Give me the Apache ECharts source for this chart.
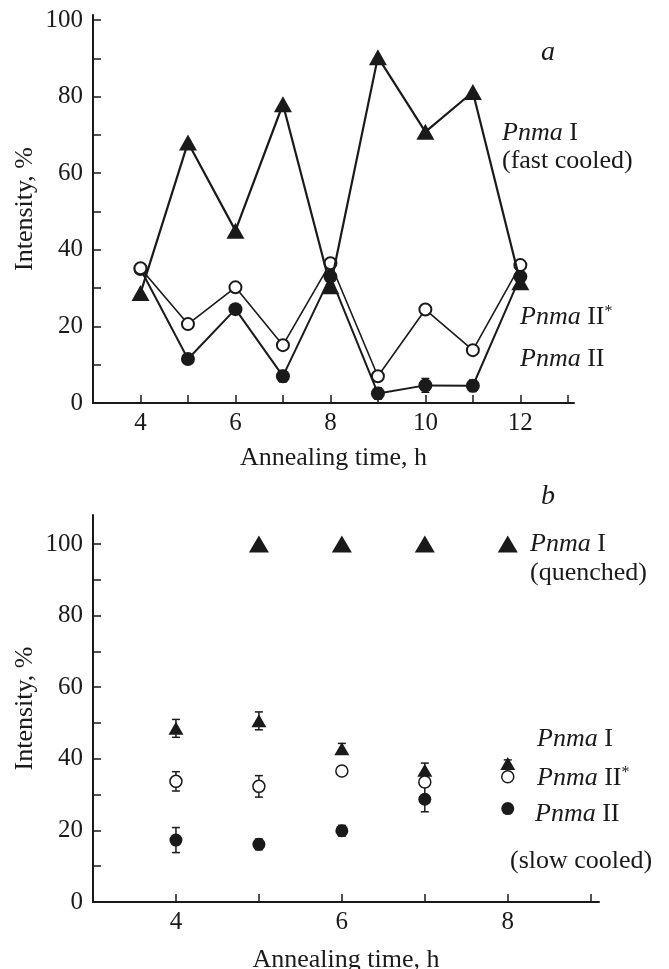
<!DOCTYPE html>
<html>
<head>
<meta charset="utf-8">
<script src="https://cdn.jsdelivr.net/npm/echarts@6/dist/echarts.min.js"></script>
<style>
  html, body { margin: 0; padding: 0; background: #fff; }
  #chart { width: 669px; height: 969px; }
</style>
</head>
<body>
<div id="chart"></div>
<script>
// panel a (fast cooled)
const timesA = [4, 5, 6, 7, 8, 9, 10, 11, 12];
const pnmaIFast = [28.7, 68, 45, 78, 30.5, 90.3, 70.8, 81.2, 31.5];
const pnmaIIStarFast = [35.2, 20.6, 30.2, 15.1, 36.5, 7, 24.4, 13.8, 36];
const pnmaIIFast = [35, 11.5, 24.5, 7, 33, 2.5, 4.6, 4.5, 33];
const errPnmaIIFast = [0, 1, 1, 1.5, 1, 1.5, 1.8, 1.5, 1];

// panel b (quenched / slow cooled)
const timesQuenched = [5, 6, 7, 8];
const pnmaIQuenched = [100, 100, 100, 100];
const timesB = [4, 5, 6, 7, 8];
const pnmaISlow = [48.5, 50.6, 42.8, 36.8, 38.7];
const errPnmaISlow = [2.5, 2.5, 1.5, 2, 1];
const pnmaIIStarSlow = [33.7, 32.3, 36.6, 33.5, 35];
const errPnmaIIStarSlow = [2.7, 3, 0.5, 1, 0.5];
const pnmaIISlow = [17.3, 16.1, 19.9, 28.7, 26.1];
const errPnmaIISlow = [3.5, 1.5, 1.5, 3.5, 1];

const xTicksA = [4, 5, 6, 7, 8, 9, 10, 11, 12, 13];
const xLabelsA = [4, 6, 8, 10, 12];
const xTicksB = [4, 5, 6, 7, 8, 9];
const xLabelsB = [4, 6, 8];
const yTicks = [0, 10, 20, 30, 40, 50, 60, 70, 80, 90, 100];
const yLabels = [0, 20, 40, 60, 80, 100];

const FONT = 'Liberation Serif';
const INK = '#1a1a1a';

function pairs(xs, ys) { return xs.map((x, i) => [x, ys[i]]); }
function errData(xs, ys, es) { return xs.map((x, i) => [x, ys[i], es[i]]); }

function errorSeries(idx, data) {
  return {
    type: 'custom', xAxisIndex: idx, yAxisIndex: idx, z: 1, silent: true,
    data: data,
    renderItem: function (params, api) {
      const e = api.value(2);
      if (!e) return null;
      const x = api.value(0), y = api.value(1);
      const hi = api.coord([x, y + e]);
      const lo = api.coord([x, y - e]);
      const w = 4;
      const st = { stroke: INK, lineWidth: 1.5 };
      return {
        type: 'group',
        children: [
          { type: 'line', shape: { x1: hi[0], y1: hi[1], x2: lo[0], y2: lo[1] }, style: st },
          { type: 'line', shape: { x1: hi[0] - w, y1: hi[1], x2: hi[0] + w, y2: hi[1] }, style: st },
          { type: 'line', shape: { x1: lo[0] - w, y1: lo[1], x2: lo[0] + w, y2: lo[1] }, style: st }
        ]
      };
    }
  };
}

function xAxisCfg(idx, max, ticks, labels, gap) {
  return {
    type: 'value', gridIndex: idx, min: 3, max: max,
    name: 'Annealing time, h', nameLocation: 'middle', nameGap: gap,
    nameTextStyle: { fontFamily: FONT, fontSize: 26, color: INK },
    axisLine: { lineStyle: { color: INK, width: 2 } },
    axisTick: { inside: true, length: 8, customValues: ticks, lineStyle: { color: INK, width: 1.5 } },
    axisLabel: { customValues: labels, margin: 8, fontFamily: FONT, fontSize: 25, color: INK },
    splitLine: { show: false }
  };
}

function yAxisCfg(idx, max) {
  return {
    type: 'value', gridIndex: idx, min: 0, max: max,
    name: 'Intensity, %', nameLocation: 'middle', nameRotate: 90, nameGap: 55,
    nameMoveOverlap: false,
    nameTextStyle: { fontFamily: FONT, fontSize: 26, color: INK },
    axisLine: { lineStyle: { color: INK, width: 2 } },
    axisTick: { inside: true, length: 8, customValues: yTicks, lineStyle: { color: INK, width: 1.5 } },
    axisLabel: { customValues: yLabels, margin: 10, fontFamily: FONT, fontSize: 25, color: INK },
    splitLine: { show: false }
  };
}

const rich = {
  i: { fontFamily: FONT, fontSize: 26, fontStyle: 'italic', color: INK },
  r: { fontFamily: FONT, fontSize: 26, color: INK },
  s: { fontFamily: FONT, fontSize: 16, color: INK, verticalAlign: 'top', padding: [0, 0, 11, 0] }
};

function label(x, y, text) {
  return {
    type: 'text', left: x, top: y,
    style: { text: text, rich: rich, fontFamily: FONT, fontSize: 26, fill: INK }
  };
}

const solid = { color: INK, opacity: 1 };
const hollow = { color: '#fff', borderColor: INK, borderWidth: 2, opacity: 1 };

const chart = echarts.init(document.getElementById('chart'), null, { renderer: 'canvas' });

const option = {
  backgroundColor: '#fff',
  animation: false,
  grid: [
    { left: 93, top: 15, width: 481, height: 388, containLabel: false, outerBoundsMode: 'none' },
    { left: 93, top: 515, width: 506, height: 387, containLabel: false, outerBoundsMode: 'none' }
  ],
  xAxis: [
    xAxisCfg(0, 13.13, xTicksA, xLabelsA, 42),
    xAxisCfg(1, 9.1, xTicksB, xLabelsB, 45)
  ],
  yAxis: [yAxisCfg(0, 101.3), yAxisCfg(1, 108.1)],
  series: [
    {
      type: 'line', xAxisIndex: 0, yAxisIndex: 0, z: 3,
      data: pairs(timesA, pnmaIIFast),
      symbol: 'circle', symbolSize: 14,
      lineStyle: { color: INK, width: 2 },
      itemStyle: solid
    },
    {
      type: 'line', xAxisIndex: 0, yAxisIndex: 0, z: 4,
      data: pairs(timesA, pnmaIIStarFast),
      symbol: 'circle', symbolSize: 12,
      lineStyle: { color: INK, width: 1.6 },
      itemStyle: hollow
    },
    {
      type: 'line', xAxisIndex: 0, yAxisIndex: 0, z: 5,
      data: pairs(timesA, pnmaIFast),
      symbol: 'triangle', symbolSize: [18, 16],
      lineStyle: { color: INK, width: 2.2 },
      itemStyle: solid
    },
    errorSeries(0, errData(timesA, pnmaIIFast, errPnmaIIFast)),

    {
      type: 'scatter', xAxisIndex: 1, yAxisIndex: 1, z: 5,
      data: pairs(timesQuenched, pnmaIQuenched),
      symbol: 'triangle', symbolSize: [20, 17],
      itemStyle: solid
    },
    {
      type: 'scatter', xAxisIndex: 1, yAxisIndex: 1, z: 5,
      data: pairs(timesB, pnmaISlow),
      symbol: 'triangle', symbolSize: [15, 13],
      itemStyle: solid
    },
    {
      type: 'scatter', xAxisIndex: 1, yAxisIndex: 1, z: 5,
      data: pairs(timesB, pnmaIIStarSlow),
      symbol: 'circle', symbolSize: 12,
      itemStyle: { color: '#fff', borderColor: INK, borderWidth: 1.5, opacity: 1 }
    },
    {
      type: 'scatter', xAxisIndex: 1, yAxisIndex: 1, z: 5,
      data: pairs(timesB, pnmaIISlow),
      symbol: 'circle', symbolSize: 13,
      itemStyle: solid
    },
    errorSeries(1, errData(timesB, pnmaISlow, errPnmaISlow)),
    errorSeries(1, errData(timesB, pnmaIIStarSlow, errPnmaIIStarSlow)),
    errorSeries(1, errData(timesB, pnmaIISlow, errPnmaIISlow))
  ],
  graphic: [
    { type: 'text', left: 541, top: 39, style: { text: 'a', fontFamily: FONT, fontSize: 28, fontStyle: 'italic', fill: INK } },
    label(502, 120, '{i|Pnma}{r| I}'),
    label(502, 148, '{r|(fast cooled)}'),
    label(520, 304, '{i|Pnma}{r| II}{s|*}'),
    label(520, 346, '{i|Pnma}{r| II}'),

    { type: 'text', left: 541, top: 483, style: { text: 'b', fontFamily: FONT, fontSize: 28, fontStyle: 'italic', fill: INK } },
    label(530, 531, '{i|Pnma}{r| I}'),
    label(530, 560, '{r|(quenched)}'),
    label(537, 726, '{i|Pnma}{r| I}'),
    label(537, 765, '{i|Pnma}{r| II}{s|*}'),
    label(535, 801, '{i|Pnma}{r| II}'),
    label(510, 848, '{r|(slow cooled)}')
  ]
};

chart.setOption(option);
</script>
</body>
</html>
